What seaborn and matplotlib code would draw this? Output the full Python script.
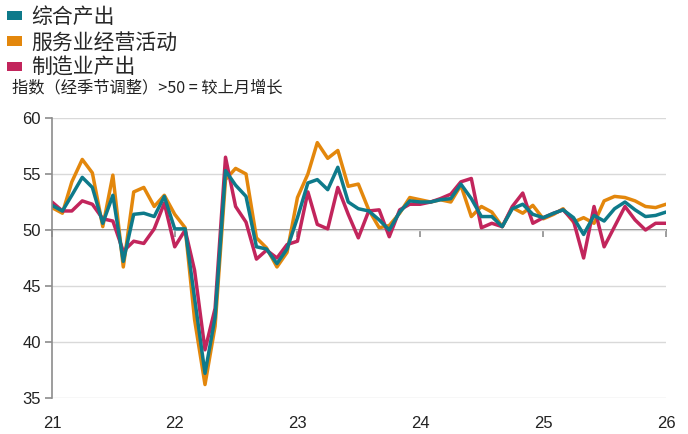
import matplotlib
matplotlib.use('Agg')
import matplotlib.pyplot as plt
import matplotlib.dates as mdates
import seaborn as sns
import pandas as pd
import numpy as np
from matplotlib.patches import Patch

# ---------------- data ----------------
months = pd.date_range('2021-01-01', '2026-01-01', freq='MS')

composite = [52.2, 51.7, 53.1, 54.7, 53.8, 50.6, 53.1, 47.2, 51.4, 51.5, 51.2, 53.0,
             50.1, 50.1, 43.9, 37.2, 42.2, 55.3, 54.0, 53.0, 48.5, 48.3, 47.0, 48.3,
             51.1, 54.2, 54.5, 53.6, 55.6, 52.5, 51.9, 51.7, 50.9, 50.0, 51.6, 52.6,
             52.5, 52.5, 52.7, 52.8, 54.1, 52.8, 51.2, 51.2, 50.3, 51.9, 52.3, 51.4,
             51.1, 51.5, 51.8, 51.1, 49.6, 51.3, 50.8, 51.9, 52.5, 51.8, 51.2, 51.3,
             51.6]
services = [52.0, 51.5, 54.3, 56.3, 55.1, 50.3, 54.9, 46.7, 53.4, 53.8, 52.1, 53.1,
            51.4, 50.2, 42.0, 36.2, 41.4, 54.5, 55.5, 55.0, 49.3, 48.4, 46.7, 48.0,
            52.9, 55.0, 57.8, 56.4, 57.1, 53.9, 54.1, 51.8, 50.2, 50.4, 51.5, 52.9,
            52.7, 52.5, 52.7, 52.5, 54.0, 51.2, 52.1, 51.6, 50.3, 52.0, 51.5, 52.2,
            51.0, 51.4, 51.9, 50.7, 51.1, 50.6, 52.6, 53.0, 52.9, 52.6, 52.1, 52.0,
            52.3]
manufacturing = [52.5, 51.7, 51.7, 52.6, 52.3, 51.0, 50.8, 48.1, 49.0, 48.8, 50.1, 52.4,
                 48.5, 50.0, 46.4, 39.3, 43.0, 56.5, 52.1, 50.7, 47.4, 48.2, 47.5, 48.7,
                 49.0, 53.4, 50.5, 50.1, 53.8, 51.4, 49.3, 51.7, 51.8, 49.4, 51.8, 52.3,
                 52.3, 52.5, 52.8, 53.2, 54.3, 54.6, 50.2, 50.6, 50.3, 52.1, 53.3, 50.6,
                 51.1, 51.5, 51.8, 50.8, 47.5, 52.1, 48.5, 50.3, 52.1, 50.9, 50.0, 50.6,
                 50.6]

series_names = ['综合产出', '服务业经营活动', '制造业产出']
colors = ['#0E7A8A', '#E3870C', '#C2255C']
year_ticks = ['2021-01-01', '2022-01-01', '2023-01-01', '2024-01-01', '2025-01-01', '2026-01-01']
year_labels = ['21', '22', '23', '24', '25', '26']
y_ticks = [35, 40, 45, 50, 55, 60]
subtitle = '指数（经季节调整）>50 = 较上月增长'

# ---------------- frame ----------------
xnum = mdates.date2num(months)
df = pd.DataFrame({
    'x': np.tile(xnum, 3),
    'value': composite + services + manufacturing,
    'series': np.repeat(series_names, len(months)),
})

sns.set_theme(style='white')
plt.rcParams['font.family'] = ['Liberation Sans', 'Noto Sans CJK SC', 'DejaVu Sans']

fig = plt.figure(figsize=(6.88, 4.34), dpi=100)
ax = fig.add_axes([52 / 688, 36 / 434, (666 - 52) / 688, 280 / 434])

palette = dict(zip(series_names, colors))
draw_order = [series_names[1], series_names[2], series_names[0]]
sns.lineplot(data=df, x='x', y='value', hue='series', hue_order=draw_order,
             palette=palette, linewidth=2.5, ax=ax, legend=False)

ax.set_xlim(xnum[0], xnum[-1])
ax.set_ylim(35, 60)
ax.set_yticks(y_ticks)
ax.set_yticklabels([str(v) for v in y_ticks], fontsize=12, color='#222222')
ax.yaxis.grid(True, color='#d9d9d9', linewidth=1)
ax.set_axisbelow(True)
ax.set_xlabel('')
ax.set_ylabel('')

for s in ['top', 'right']:
    ax.spines[s].set_visible(False)
ax.spines['left'].set_color('#8c8c8c')
ax.spines['left'].set_linewidth(1.2)
ax.spines['bottom'].set_position(('data', 50))
ax.spines['bottom'].set_color('#8c8c8c')
ax.spines['bottom'].set_linewidth(1.4)
ax.spines['bottom'].set_zorder(0.5)

tick_pos = mdates.date2num(pd.to_datetime(year_ticks))
ax.set_xticks(tick_pos)
ax.tick_params(axis='x', direction='out', length=5, width=1.2, color='#8c8c8c',
               labelbottom=False, bottom=True)
ax.tick_params(axis='y', direction='out', length=5, width=1.2, color='#8c8c8c',
               left=True, pad=3)

sec = ax.secondary_xaxis(0)
sec.set_xticks(tick_pos)
sec.set_xticklabels(year_labels, fontsize=12, color='#222222')
sec.tick_params(length=0, pad=13)
sec.spines['bottom'].set_visible(False)

handles = [Patch(facecolor=c, edgecolor='none', label=n) for n, c in zip(series_names, colors)]
fig.legend(handles=handles, loc='upper left', bbox_to_anchor=(0.004, 0.995),
           frameon=False, prop={'family': ['Noto Sans CJK SC'], 'size': 15},
           handlelength=0.7, handleheight=0.3, handletextpad=0.45,
           labelspacing=0.15, borderaxespad=0, borderpad=0.2)

fig.text(12 / 688, 1 - 88 / 434, subtitle, fontsize=11.7,
         family=['Noto Sans CJK SC', 'DejaVu Sans'], va='center', ha='left', color='#222222')

fig.savefig('out.png', dpi=100)
